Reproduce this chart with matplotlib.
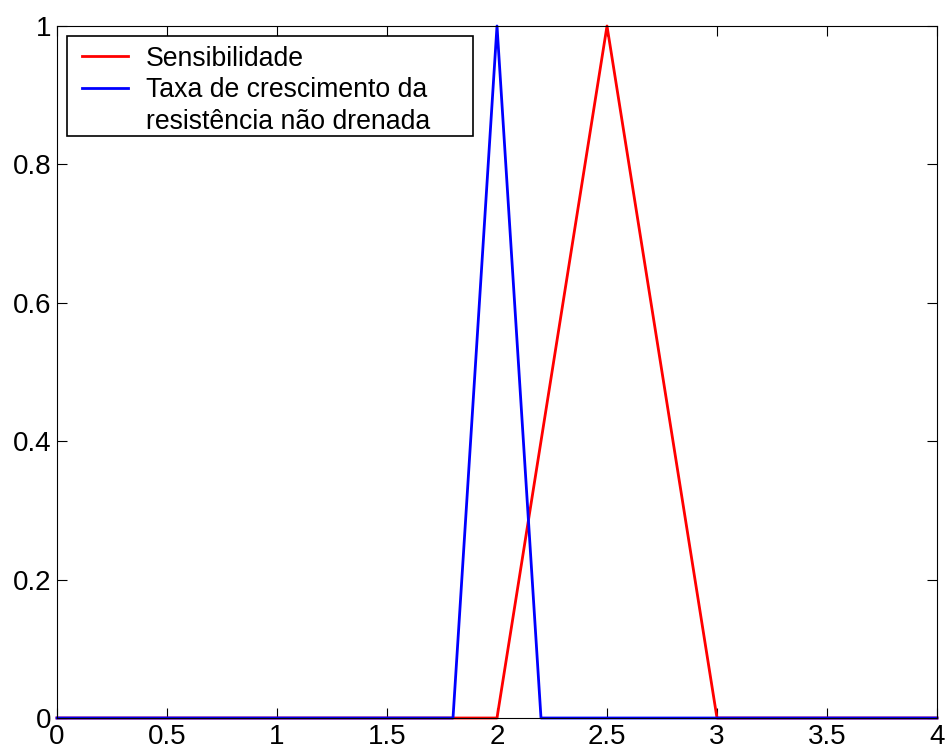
import matplotlib
matplotlib.use("Agg")
import matplotlib.pyplot as plt
from matplotlib.lines import Line2D
from matplotlib.patches import Rectangle

plt.rcParams['font.family'] = ['Liberation Sans', 'DejaVu Sans']

sens_x = [0, 2.0, 2.5, 3.0, 4.0]
sens_y = [0, 0, 1, 0, 0]
taxa_x = [0, 1.8, 2.0, 2.2, 4.0]
taxa_y = [0, 0, 1, 0, 0]
labels = ["Sensibilidade", "Taxa de crescimento da", "resistência não drenada"]
xticks = [0, 0.5, 1, 1.5, 2, 2.5, 3, 3.5, 4]
xticklabels = ["0", "0.5", "1", "1.5", "2", "2.5", "3", "3.5", "4"]
yticks = [0, 0.2, 0.4, 0.6, 0.8, 1]
yticklabels = ["0", "0.2", "0.4", "0.6", "0.8", "1"]

W, H = 947, 752
fig = plt.figure(figsize=(W/100, H/100), dpi=100)
ax = fig.add_axes([57/W, 1-718/H, (937-57)/W, (718-26)/H])
l1, = ax.plot(sens_x, sens_y, color='#ff0000', lw=2.0, clip_on=False)
l2, = ax.plot(taxa_x, taxa_y, color='#0000ff', lw=2.0, clip_on=False)
ax.set_xlim(0, 4)
ax.set_ylim(0, 1)
ax.set_xticks(xticks)
ax.set_xticklabels(xticklabels)
ax.set_yticks(yticks)
ax.set_yticklabels(yticklabels)
ax.tick_params(direction='in', length=7, width=0.8, top=True, right=True,
               labelsize=20, pad=4)
for s in ax.spines.values():
    s.set_linewidth(0.8)

# legend frame (MATLAB-style box with wide padding)
x0, y0, x1, y1 = 67, 36, 473, 136
frame = Rectangle((x0/W, 1-y1/H), (x1-x0)/W, (y1-y0)/H, transform=fig.transFigure,
                  facecolor='white', edgecolor='black', lw=1.2, zorder=10)
fig.add_artist(frame)
blank = Line2D([], [], color='none')
leg = fig.legend([l1, l2, blank], labels, loc='upper left',
                 bbox_to_anchor=(82/W, 1-45.5/H), bbox_transform=fig.transFigure,
                 fontsize=19.2, frameon=False, borderaxespad=0, borderpad=0,
                 handlelength=1.72, handletextpad=0.68, labelspacing=0.21)
leg.set_zorder(11)
fig.savefig("out.png", dpi=100)
